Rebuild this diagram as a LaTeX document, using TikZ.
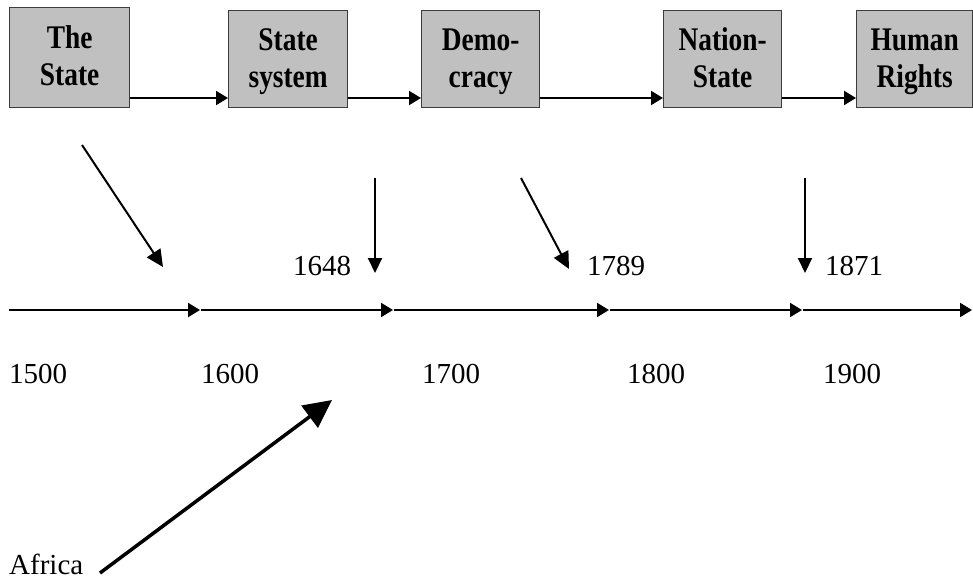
\documentclass[tikz,border=0pt]{standalone}
\usepackage{fontspec}
\setmainfont{Liberation Serif}
\newfontfamily\boxfont[FakeStretch=0.83]{Liberation Serif Bold}
\usetikzlibrary{arrows.meta}
\definecolor{boxgray}{RGB}{192,192,192}
\definecolor{boxline}{RGB}{60,60,60}
\newcommand\mystrut{\rule[-9pt]{0pt}{37pt}}
\begin{document}
\begin{tikzpicture}[x=1pt,y=-1pt,
  box/.style={draw=boxline,line width=1.3pt,fill=boxgray,inner sep=0pt,anchor=north west,
    align=center,font=\boxfont\fontsize{33}{37}\selectfont},
  yr/.style={anchor=base west,inner sep=0pt,font=\fontsize{29}{34}\selectfont},
  arr/.style={line width=2pt,-{Triangle[length=12pt,width=14pt]}},
  darr/.style={line width=2pt,-{Triangle[length=17pt,width=16pt]}},
  varr/.style={line width=2pt,-{Triangle[length=15pt,width=14pt]}},
  bigarr/.style={line width=3.5pt,-{Triangle[length=28pt,width=27pt]}}]
\useasboundingbox (0,0) rectangle (973,581);

% boxes
\node[box,minimum width=120pt,minimum height=100pt] (b1) at (9,7) {\mystrut The\\\mystrut State};
\node[box,minimum width=119pt,minimum height=97pt] (b2) at (228,10) {\mystrut State\\\mystrut system};
\node[box,minimum width=118pt,minimum height=97pt] (b3) at (421,10) {\mystrut Demo-\\\mystrut cracy};
\node[box,minimum width=118pt,minimum height=97pt] (b4) at (663,10) {\mystrut Nation-\\\mystrut State};
\node[box,minimum width=116pt,minimum height=97pt] (b5) at (856,10) {\mystrut Human\\\mystrut Rights};

\draw[arr] (b1.east |- 0,98) -- (b2.west |- 0,98);
\draw[arr] (b2.east |- 0,98) -- (b3.west |- 0,98);
\draw[arr] (b3.east |- 0,98) -- (b4.west |- 0,98);
\draw[arr] (b4.east |- 0,98) -- (b5.west |- 0,98);

% timeline
\coordinate (t0) at (9,310);
\coordinate (t1) at (201,310);
\coordinate (t2) at (394,310);
\coordinate (t3) at (610,310);
\coordinate (t4) at (803,310);
\coordinate (t5) at (972,310);
\draw[arr,shorten >=1pt] (t0) -- (t1);
\draw[arr,shorten >=1pt] (t1) -- (t2);
\draw[arr,shorten >=1pt] (t2) -- (t3);
\draw[arr,shorten >=1pt] (t3) -- (t4);
\draw[arr] (t4) -- (t5);

\node[yr] (y1500) at (9,383) {1500};
\node[yr] (y1600) at (201,383) {1600};
\node[yr] (y1700) at (422,383) {1700};
\node[yr] (y1800) at (627,383) {1800};
\node[yr] (y1900) at (823,383) {1900};

% event arrows
\coordinate (s1) at (82,145);  \coordinate (e1) at (163,267);
\coordinate (s2) at (375,178); \coordinate (e2) at (375,273);
\coordinate (s3) at (521,178); \coordinate (e3) at (569,269);
\coordinate (s4) at (805,178); \coordinate (e4) at (805,273);
\draw[darr] (s1) -- (e1);
\draw[varr] (s2) -- (e2);
\draw[darr] (s3) -- (e3);
\draw[varr] (s4) -- (e4);

\node[yr] (d1648) at (293,275) {1648};
\node[yr] (d1789) at (587,275) {1789};
\node[yr] (d1871) at (825,275) {1871};

% Africa
\node[yr] (africa) at (9,574) {Africa};
\coordinate (as) at (100,573);
\coordinate (ae) at (332,400);
\draw[bigarr] (as) -- (ae);
\end{tikzpicture}
\end{document}
